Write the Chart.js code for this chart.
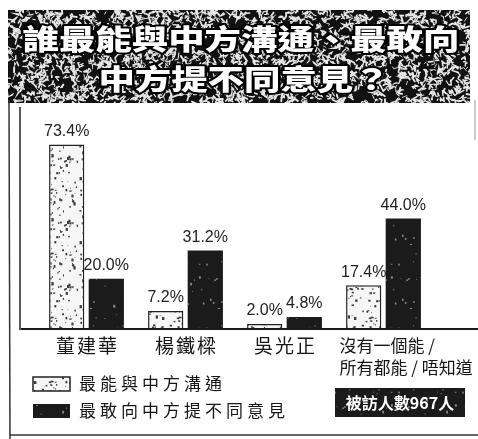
<!DOCTYPE html>
<html>
<head>
<meta charset="utf-8">
<script src="https://cdn.jsdelivr.net/npm/chart.js@4/dist/chart.umd.min.js"></script>
<style>
  html, body { margin: 0; padding: 0; background: #fff; }
  #poll { display: block; }
</style>
</head>
<body>
<canvas id="poll" width="478" height="439"></canvas>
<script>
const categories = ["董建華", "楊鐵樑", "吳光正", ["沒有一個能 /", "所有都能 / 唔知道"]];
const canTalk = [73.4, 7.2, 2.0, 17.4];
const dareDiffer = [20.0, 31.2, 4.8, 44.0];
const seriesNames = ["最能與中方溝通", "最敢向中方提不同意見"];
const titleLines = ["誰最能與中方溝通、最敢向", "中方提不同意見？"];
const sampleNote = "被訪人數967人";

const CJK = '"Noto Sans CJK TC", "Noto Sans CJK SC", sans-serif';
const ink = "#161616";

// seeded so the print texture is the same on every load
const makeRand = (seed) => () => {
  seed = (seed * 16807) % 2147483647;
  return seed / 2147483647;
};

const speckle = (base, dot, count, size, seed) => {
  const c = document.createElement("canvas");
  c.width = 64;
  c.height = 64;
  const g = c.getContext("2d");
  g.fillStyle = base;
  g.fillRect(0, 0, 64, 64);
  const rand = makeRand(seed);
  g.fillStyle = dot;
  for (let i = 0; i < count; i++) {
    const s = 0.8 + rand() * size;
    g.fillRect(rand() * 64, rand() * 64, s, s * (0.5 + rand()));
  }
  return c;
};

const ctx0 = document.getElementById("poll").getContext("2d");
const lightFill = ctx0.createPattern(speckle("#f6f6f6", "#3a3a3a", 130, 1.6, 11), "repeat");
const darkFill = ctx0.createPattern(speckle("#1b1b1b", "#8a8a8a", 30, 1.3, 29), "repeat");

const drawSpaced = (ctx, text, x, y, advance) => {
  const chars = [...text];
  let cx = x - (chars.length * advance) / 2 + advance / 2;
  ctx.textAlign = "center";
  chars.forEach((ch) => {
    ctx.fillText(ch, cx, y);
    cx += advance;
  });
};

const drawTitle = (ctx) => {
  const x0 = 8, y0 = 10, w = 462, h = 93;
  ctx.save();
  ctx.fillStyle = "#111";
  ctx.fillRect(x0, y0, w, h);
  ctx.beginPath();
  ctx.rect(x0, y0, w, h);
  ctx.clip();
  // crumpled white squiggles over the black block
  const rand = makeRand(7);
  ctx.strokeStyle = "#e6e6e6";
  ctx.lineCap = "round";
  for (let i = 0; i < 2400; i++) {
    let px = x0 + rand() * w;
    let py = y0 + rand() * h;
    ctx.lineWidth = 0.8 + rand() * 1.2;
    ctx.beginPath();
    ctx.moveTo(px, py);
    const steps = 1 + Math.floor(rand() * 3);
    for (let k = 0; k < steps; k++) {
      const a = rand() * Math.PI * 2;
      const len = 1.5 + rand() * 3;
      px += Math.cos(a) * len;
      py += Math.sin(a) * len;
      ctx.lineTo(px, py);
    }
    ctx.stroke();
  }
  ctx.restore();

  const lines = [[titleLines[0], 241, 39], [titleLines[1], 244, 79]];
  lines.forEach(([text, cx, cy]) => {
    ctx.save();
    ctx.translate(cx, cy);
    ctx.scale(1.3, 1);
    ctx.font = `900 28px ${CJK}`;
    ctx.textAlign = "center";
    ctx.textBaseline = "middle";
    ctx.lineJoin = "round";
    ctx.lineWidth = 4;
    ctx.strokeStyle = "#000";
    ctx.strokeText(text, 0, 0);
    ctx.fillStyle = "#fff";
    ctx.fillText(text, 0, 0);
    ctx.restore();
  });
};

const frameLine = (ctx, x1, y1, x2, y2, width, color) => {
  ctx.beginPath();
  ctx.moveTo(x1, y1);
  ctx.lineTo(x2, y2);
  ctx.lineWidth = width;
  ctx.strokeStyle = color;
  ctx.stroke();
};

const newsprint = {
  id: "newsprint",
  beforeDraw(chart) {
    const ctx = chart.ctx;
    ctx.save();
    ctx.fillStyle = "#fff";
    ctx.fillRect(0, 0, chart.width, chart.height);
    drawTitle(ctx);
    frameLine(ctx, 9, 100, 10, 439, 1.5, "#333");
    frameLine(ctx, 10, 435, 478, 435, 1.5, "#333");
    frameLine(ctx, 475, 100, 475, 140, 1, "#999");
    frameLine(ctx, 20, 107, 20, 330, 1.5, "#222");
    ctx.restore();
  },
  afterDatasetsDraw(chart) {
    const ctx = chart.ctx;
    const xScale = chart.scales.x;
    ctx.save();
    frameLine(ctx, 21, 329, 478, 329, 2, "#1a1a1a");

    // value labels over each bar
    ctx.fillStyle = "#222";
    ctx.font = '16px "Liberation Sans", Arial, sans-serif';
    ctx.textAlign = "center";
    ctx.textBaseline = "bottom";
    chart.data.datasets.forEach((ds, i) => {
      chart.getDatasetMeta(i).data.forEach((bar, j) => {
        ctx.fillText(ds.data[j].toFixed(1) + "%", bar.x, bar.y - 5);
      });
    });

    // category names under the axis
    ctx.fillStyle = ink;
    ctx.textBaseline = "middle";
    categories.forEach((cat, i) => {
      const cx = xScale.getPixelForValue(i);
      if (Array.isArray(cat)) {
        ctx.font = `17px ${CJK}`;
        ctx.textAlign = "left";
        const left = cx - 44;
        cat.forEach((line, k) => ctx.fillText(line, left, 346 + k * 22));
      } else {
        ctx.font = `19px ${CJK}`;
        drawSpaced(ctx, cat, cx, 346, 21);
      }
    });

    // legend
    const swatches = [[lightFill, 377], [darkFill, 404]];
    swatches.forEach(([fill, top], i) => {
      ctx.fillStyle = fill;
      ctx.fillRect(33, top, 37, 14);
      if (i === 0) {
        ctx.lineWidth = 1.5;
        ctx.strokeStyle = "#222";
        ctx.strokeRect(33, top, 37, 14);
      }
      ctx.fillStyle = ink;
      ctx.font = `17px ${CJK}`;
      ctx.textAlign = "left";
      ctx.textBaseline = "middle";
      [...seriesNames[i]].forEach((ch, k) => ctx.fillText(ch, 79 + k * 21, top + 7));
    });

    // sample size note
    ctx.fillStyle = darkFill;
    ctx.fillRect(335, 388, 130, 29);
    ctx.fillStyle = "#fff";
    ctx.font = `bold 16px ${CJK}`;
    ctx.textAlign = "center";
    ctx.textBaseline = "middle";
    ctx.fillText(sampleNote, 400, 403);
    ctx.restore();
  },
};

new Chart(document.getElementById("poll"), {
  type: "bar",
  data: {
    labels: categories,
    datasets: [
      {
        label: seriesNames[0],
        data: canTalk,
        backgroundColor: lightFill,
        borderColor: "#222",
        borderWidth: 1.5,
      },
      {
        label: seriesNames[1],
        data: dareDiffer,
        backgroundColor: darkFill,
        borderWidth: 0,
      },
    ],
  },
  options: {
    responsive: false,
    devicePixelRatio: 1,
    animation: false,
    layout: { padding: { left: 37, right: 45, top: 128, bottom: 110 } },
    datasets: { bar: { categoryPercentage: 0.8, barPercentage: 0.89 } },
    plugins: { legend: { display: false }, tooltip: { enabled: false } },
    scales: {
      x: { display: false },
      y: { display: false, min: 0, max: 80 },
    },
  },
  plugins: [newsprint],
});
</script>
</body>
</html>
